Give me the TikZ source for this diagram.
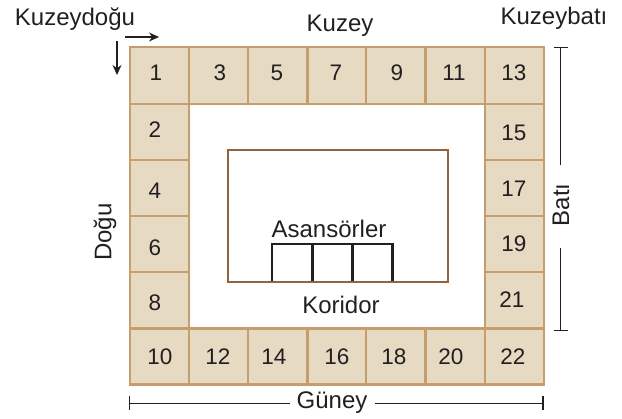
\documentclass[tikz,border=0pt]{standalone}
\usepackage{fontspec}
\setmainfont{Liberation Sans}
\usetikzlibrary{arrows.meta}
\definecolor{cellfill}{HTML}{E6DAC2}
\definecolor{celledge}{HTML}{C69D6D}
\definecolor{corebrown}{HTML}{8F6440}
\definecolor{ink}{HTML}{231F20}
\tikzset{
  cellbox/.style={draw=celledge,fill=cellfill,line width=2.6pt,inner sep=0pt,minimum width=#1},
  cellbox/.default=59pt,
  num/.style={text=ink,font=\fontsize{22.5}{26}\selectfont,inner sep=0pt},
  lbl/.style={text=ink,font=\fontsize{24}{28}\selectfont,inner sep=0pt},
  core/.style={draw=corebrown,line width=2.4pt,inner sep=0pt,minimum width=220pt,minimum height=132pt},
  lift/.style={draw=ink,line width=2.6pt,inner sep=0pt,minimum width=40.2pt,minimum height=38pt},
  dimline/.style={draw=ink,line width=1.2pt},
  pointer/.style={draw=ink,line width=1.2pt,-{Stealth[length=10pt,width=9pt]}}
}
\begin{document}
\begin{tikzpicture}[x=1pt,y=-1pt]
\useasboundingbox (0,0) rectangle (622,419);
% cells: name/x1/x2/y1/y2
\foreach \n/\a/\b/\c/\d in {
 1/130/189/47/104, 3/189/248/47/104, 5/248/307.5/47/104, 7/307.5/366/47/104, 9/366/425.5/47/104, 11/425.5/485/47/104, 13/485/544/47/104,
 2/130/189/104/160, 4/130/189/160/216, 6/130/189/216/272, 8/130/189/272/328.5,
 15/485/544/104/160, 17/485/544/160/216, 19/485/544/216/272, 21/485/544/272/328.5,
 10/130/189/328.5/384.5, 12/189/248/328.5/384.5, 14/248/307.5/328.5/384.5, 16/307.5/366/328.5/384.5, 18/366/425.5/328.5/384.5, 20/425.5/485/328.5/384.5, 22/485/544/328.5/384.5}
{
  \pgfmathsetmacro{\cx}{(\a+\b)/2}
  \pgfmathsetmacro{\cy}{(\c+\d)/2}
  \pgfmathsetmacro{\cw}{\b-\a}
  \pgfmathsetmacro{\ch}{\d-\c}
  \node[cellbox=\cw pt,minimum height=\ch pt] (c\n) at (\cx,\cy) {};
}
% numbers
\foreach \n/\x/\y in {1/156/73, 3/220/73, 5/277/73, 7/336/73, 9/397/73, 11/454/73, 13/514/73,
 2/155/130, 4/155/191, 6/155/248, 8/155/303,
 15/514/133, 17/514/189, 19/514/244, 21/512/300,
 10/160/357, 12/218/357, 14/274/357, 16/337/357, 18/394/357, 20/451/357, 22/513/357}
{ \node[num] (n\n) at (\x,\y) {\n}; }
% lifts and core
\node[lift] (l1) at (292.1,263) {};
\node[lift] (l2) at (332.1,263) {};
\node[lift] (l3) at (372.3,263) {};
\node[core] (corebox) at (338,216) {};
% labels
\node[lbl] (asans) at (329,229) {Asansörler};
\node[lbl] (korid) at (341,305) {Koridor};
\node[lbl] (kuzey) at (340,26) {Kuzey};
\node[lbl] (kd) at (75,19) {Kuzeydoğu};
\node[lbl] (kb) at (554,18) {Kuzeybatı};
\node[lbl,rotate=90] (dogu) at (105,232) {Doğu};
\node[lbl,rotate=90] (bati) at (561,205) {Batı};
\node[lbl] (guney) at (332,403) {Güney};
% pointers
\coordinate (ha) at (125,37);
\coordinate (hb) at (159,37);
\coordinate (va) at (117,41);
\coordinate (vb) at (117,75);
\draw[pointer] (ha) -- (hb);
\draw[pointer] (va) -- (vb);
% dimension lines
\coordinate (bt) at (560.5,47);
\coordinate (btu) at (560.5,165);
\coordinate (bl) at (560.5,248);
\coordinate (blb) at (560.5,331.5);
\coordinate (gl) at (129,403.5);
\coordinate (gle) at (290,403.5);
\coordinate (gr) at (543.5,403.5);
\coordinate (gre) at (374.5,403.5);
\draw[dimline,{Bar[width=14pt]}-] (bt) -- (btu);
\draw[dimline,-{Bar[width=14pt]}] (bl) -- (blb);
\draw[dimline,{Bar[width=14pt]}-] (gl) -- (gle);
\draw[dimline,{Bar[width=14pt]}-] (gr) -- (gre);
\end{tikzpicture}
\end{document}
